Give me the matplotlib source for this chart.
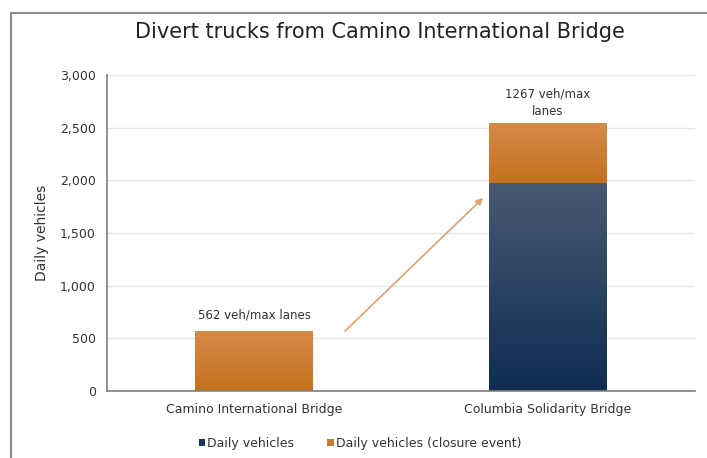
import numpy as np
import matplotlib.pyplot as plt
from matplotlib.lines import Line2D
from matplotlib.ticker import FuncFormatter
from matplotlib.colors import LinearSegmentedColormap

# data
bridges = ["Camino International Bridge", "Columbia Solidarity Bridge"]
daily = [0, 1970]
closure = [562, 562]
labels = ["562 veh/max lanes", "1267 veh/max\nlanes"]

navy = "#1E3557"
orange = "#C97A36"

plt.rcParams['font.family'] = ['DejaVu Sans']

fig = plt.figure(figsize=(7.07, 4.58), dpi=100)
ax = fig.add_axes([0.1513, 0.1463, 0.8317, 0.69])

x = list(range(len(bridges)))
b1 = ax.bar(x, daily, width=0.4, color=navy, label="Daily vehicles", zorder=3)
b2 = ax.bar(x, closure, width=0.4, bottom=daily, color=orange,
            label="Daily vehicles (closure event)", zorder=3)

# soft vertical gradient on the bars, like the original
grad = np.linspace(0, 1, 256).reshape(-1, 1)
cm_navy = LinearSegmentedColormap.from_list("n", ["#0F2C52", "#485A72"])
cm_orange = LinearSegmentedColormap.from_list("o", ["#C4711F", "#D68A4A"])
for bars, cm in [(b1, cm_navy), (b2, cm_orange)]:
    for p in bars:
        if p.get_height() <= 0:
            continue
        x0, y0 = p.get_x(), p.get_y()
        ax.imshow(grad, extent=[x0, x0 + p.get_width(), y0, y0 + p.get_height()],
                  origin='lower', aspect='auto', cmap=cm, zorder=3.1)

for i in x:
    top = daily[i] + closure[i]
    pad = 95 if i == 0 else 60
    ax.text(i, top + pad, labels[i], ha='center', va='bottom',
            fontsize=8.5, color='#333333', linespacing=1.45)

# arrow from Camino to Columbia
ax.annotate("", xy=(0.786, 1851), xytext=(0.303, 551),
            arrowprops=dict(arrowstyle='-|>', color='#E0A070', lw=1.2,
                            mutation_scale=10), zorder=4)

ax.set_xlim(-0.5, 1.5)
ax.set_ylim(0, 3000)
ax.set_yticks(range(0, 3001, 500))
ax.yaxis.set_major_formatter(FuncFormatter(lambda v, p: f"{int(v):,}"))
ax.set_xticks(x)
ax.set_xticklabels(bridges)
ax.tick_params(axis='both', labelsize=9, colors='#333333', length=0, pad=8)
ax.tick_params(axis='x', pad=9)
ax.grid(axis='y', color='#E6E6E6', lw=1, zorder=0)
for s in ['top', 'right']:
    ax.spines[s].set_visible(False)
for s in ['left', 'bottom']:
    ax.spines[s].set_color('#7F7F7F')
    ax.spines[s].set_linewidth(1.2)
    ax.spines[s].set_zorder(5)
ax.set_ylabel("Daily vehicles", fontsize=10, color='#333333', labelpad=8)

fig.text(0.537, 0.93, "Divert trucks from Camino International Bridge",
         ha='center', va='center', fontsize=15, color='#222222')

ax.legend(loc='upper center', bbox_to_anchor=(0.43, -0.11), ncol=2,
          frameon=False, fontsize=9, handlelength=0.55, handleheight=0.55,
          handletextpad=0.15, columnspacing=2.6, labelcolor='#333333')

# frame around chart
fig.add_artist(Line2D([11 / 707, 11 / 707], [0, 1 - 13 / 458],
                      transform=fig.transFigure, color='#8C8C8C', lw=1.5))
fig.add_artist(Line2D([11 / 707, 1], [1 - 13 / 458, 1 - 13 / 458],
                      transform=fig.transFigure, color='#8C8C8C', lw=1.5))

fig.savefig("out.png", dpi=100)
